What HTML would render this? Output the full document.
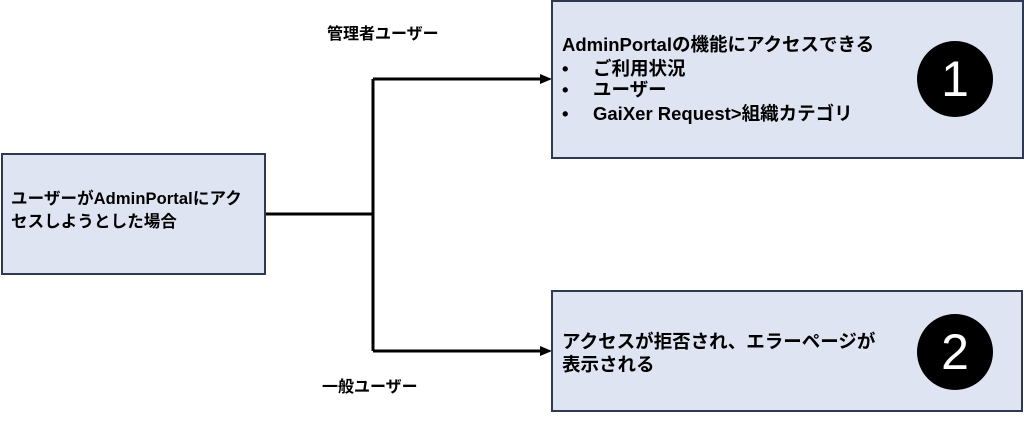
<!DOCTYPE html>
<html><head><meta charset="utf-8"><style>
body{margin:0;width:1024px;height:425px;background:#fff;position:relative;overflow:hidden;font-family:"Liberation Sans","Noto Sans CJK JP",sans-serif;font-weight:bold;color:#000;font-size:16px}
.box{position:absolute;background:#dfe4f2;border:2px solid #2e3a52;box-sizing:border-box}
.t{position:absolute;white-space:nowrap;line-height:23px}
.r{font-size:18.5px;line-height:23px}
.c{position:absolute;width:76px;height:76px;border-radius:50%;background:#000;color:#fff;font-size:50px;font-weight:normal;text-align:center;line-height:76px;font-family:"Liberation Sans",sans-serif}
</style></head><body>
<svg width="1024" height="425" style="position:absolute;left:0;top:0">
<g stroke="#000" stroke-width="3" fill="none">
<polyline points="265,214 373,214"/>
<polyline points="373,79 373,351"/>
<polyline points="373,79 542,79"/>
<polyline points="373,351 542,351"/>
</g>
<polygon points="552,79 540,74 540,84" fill="#000"/>
<polygon points="552,351 540,346 540,356" fill="#000"/>
</svg>
<div class="box" style="left:1px;top:153px;width:265px;height:122px"></div>
<div class="t" style="left:11px;top:188px;font-size:16.5px;letter-spacing:0.1px">ユーザーがAdminPortalにアク<br>セスしようとした場合</div>
<div class="box" style="left:551px;top:0px;width:473px;height:159px"></div>
<div class="t r" style="left:562px;top:33px">AdminPortalの機能にアクセスできる</div>
<div class="t r" style="left:562px;top:57px">•</div><div class="t r" style="left:593px;top:57px">ご利用状況</div>
<div class="t r" style="left:562px;top:78px">•</div><div class="t r" style="left:593px;top:78px">ユーザー</div>
<div class="t r" style="left:562px;top:102px">•</div><div class="t r" style="left:593px;top:102px">GaiXer Request&gt;組織カテゴリ</div>
<div class="c" style="left:917px;top:41px">1</div>
<div class="box" style="left:551px;top:290px;width:472px;height:122px"></div>
<div class="t r" style="left:562px;top:330px">アクセスが拒否され、エラーページが<br>表示される</div>
<div class="c" style="left:917px;top:314px">2</div>
<div class="t" style="left:327px;top:23px">管理者ユーザー</div>
<div class="t" style="left:322px;top:376px">一般ユーザー</div>
</body></html>
